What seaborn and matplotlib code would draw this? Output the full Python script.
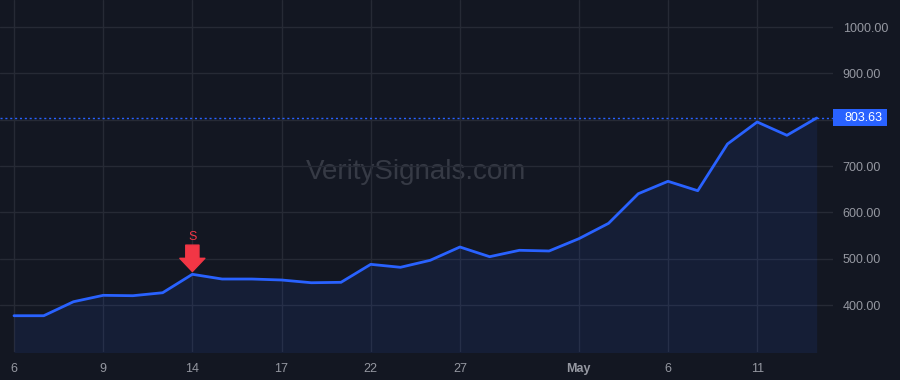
import matplotlib
matplotlib.use("Agg")
import matplotlib.pyplot as plt
import matplotlib.patches as mpatches
import matplotlib.transforms as mtrans
import seaborn as sns
import pandas as pd

# ---- data ----
dates = ["Apr 6", "Apr 7", "Apr 8", "Apr 9", "Apr 10", "Apr 13", "Apr 14", "Apr 15",
         "Apr 16", "Apr 17", "Apr 20", "Apr 21", "Apr 22", "Apr 23", "Apr 24", "Apr 27",
         "Apr 28", "Apr 29", "Apr 30", "May 1", "May 4", "May 5", "May 6", "May 7",
         "May 8", "May 11", "May 12", "May 13"]
values = [376.9, 376.9, 407.1, 420.9, 420.1, 426.5, 466.3, 456.1, 456.1, 454.0,
          448.1, 449.0, 487.8, 481.4, 496.5, 525.2, 504.3, 518.1, 516.6, 543.1,
          576.3, 640.2, 667.0, 646.7, 747.5, 795.0, 766.3, 803.63]
tick_idx = [0, 3, 6, 9, 12, 15, 19, 22, 25]
tick_labels = ["6", "9", "14", "17", "22", "27", "May", "6", "11"]
y_ticks = [400, 500, 600, 700, 800, 900, 1000]
signal_idx = 6
signal_label = "S"
watermark = "VeritySignals.com"

df = pd.DataFrame({"i": range(len(values)), "date": dates, "value": values})

BG = "#131722"
GRID = "#262a35"
LINE = "#2962ff"
TXT = "#9598a1"
RED = "#f23645"

sns.set_style("dark", rc={"axes.facecolor": BG, "figure.facecolor": BG,
                          "grid.color": GRID, "axes.edgecolor": BG})
plt.rcParams["font.family"] = ["Liberation Sans", "DejaVu Sans"]

fig = plt.figure(figsize=(9, 3.8), dpi=100)
ax = fig.add_axes([0, 28 / 380, 833 / 900, 352 / 380])
ax.set_facecolor(BG)

ax.fill_between(df["i"], df["value"], 0, color=LINE, alpha=0.095, linewidth=0, zorder=1)
sns.lineplot(data=df, x="i", y="value", ax=ax, color=LINE, linewidth=2, zorder=3)

last = values[-1]
ax.axhline(last, color=LINE, linestyle=(0, (1.5, 2)), linewidth=1, zorder=2)

ax.set_xlim(-0.471, 27.55)
ax.set_ylim(298.6, 1058.3)

ax.set_xticks(tick_idx)
ax.set_xticklabels(tick_labels)
for lbl, t in zip(ax.get_xticklabels(), tick_labels):
    if t == "May":
        lbl.set_fontweight("bold")
ax.set_yticks(y_ticks)
# the price label hides the tick label next to it
ax.set_yticklabels(["" if abs(v - last) < 30 else f"{v:.2f}" for v in y_ticks])
ax.yaxis.tick_right()
ax.tick_params(axis="both", length=0, colors=TXT, labelsize=9)
ax.tick_params(axis="x", pad=8)
ax.tick_params(axis="y", pad=7)
ax.grid(True, color=GRID, linewidth=1)
ax.set_xlabel("")
ax.set_ylabel("")
for s in ax.spines.values():
    s.set_visible(False)

# price label: box (in pixels) anchored at the last price on the right edge
fig.canvas.draw()
x0, y0 = ax.get_yaxis_transform().transform((1.0, last))
box = mpatches.Rectangle((x0, y0 - 8.5), 54, 17, transform=mtrans.IdentityTransform(),
                         fc=LINE, ec="none", zorder=9, clip_on=False)
ax.add_artist(box)
ax.text(1.0 + 11 / 833, last, f"{last:.2f}", transform=ax.get_yaxis_transform(),
        ha="left", va="center", color="white", fontsize=9, zorder=10, clip_on=False)

# watermark
ax.text(0.5, 0.511, watermark, transform=ax.transAxes, ha="center", va="center",
        color="#363a45", fontsize=20, zorder=0)

# signal arrow
sv = values[signal_idx]
ax.annotate("", xy=(signal_idx, sv), xytext=(0, 21), textcoords="offset points",
            arrowprops=dict(arrowstyle="simple,head_length=0.95,head_width=1.8,tail_width=0.95",
                            color=RED, shrinkA=0, shrinkB=2, mutation_scale=10), zorder=5)
ax.annotate(signal_label, xy=(signal_idx, sv), xytext=(0, 27), textcoords="offset points",
            ha="center", va="center", color=RED, fontsize=9, zorder=5)

fig.savefig("out.png", dpi=100, facecolor=BG)
